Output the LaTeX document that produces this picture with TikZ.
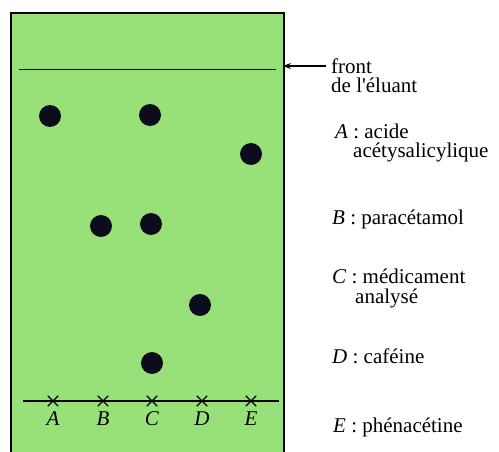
\documentclass[tikz,border=0pt]{standalone}
\usepackage{fontspec}
\setmainfont{Liberation Serif}
\usetikzlibrary{arrows.meta,positioning,shapes.misc}
\definecolor{plategreen}{RGB}{152,224,120}
\definecolor{spotcol}{RGB}{12,12,28}
\tikzset{
  >=Stealth,
  spot/.style={circle,fill=spotcol,inner sep=0pt,minimum size=22pt},
  tick/.style={cross out,draw,inner sep=0pt,minimum size=9pt,line width=1.4pt},
  lane/.style={font=\fontsize{21}{20}\selectfont\itshape,inner sep=0pt,anchor=base},
  lbl/.style={font=\fontsize{21}{20}\selectfont,align=left,anchor=base west,inner sep=0pt}
}
\begin{document}
\begin{tikzpicture}[x=1pt,y=-1pt]
    \useasboundingbox (0,0) rectangle (499,452);

    % Plate
    \fill[plategreen] (11,13) rectangle (284,452);
    \draw[line width=2.2pt] (11,452) -- (11,13) -- (284,13) -- (284,452);

    % Solvent front
    \draw[line width=1.8pt] (19,69.5) -- (276,69.5);

    % Start line and deposits
    \draw[line width=1.4pt] (23,401) -- (279,401);
    \foreach \n/\x in {A/53,B/103,C/152,D/202,E/251}{
        \node[tick] (x\n) at (\x,401) {};
        \node[lane] (l\n) at (\x,425) {\n};
    }

    % Spots
    \node[spot] (sA) at (50,116) {};
    \node[spot] (sC1) at (150,115) {};
    \node[spot] (sE) at (251,154) {};
    \node[spot] (sB) at (101,226) {};
    \node[spot] (sC2) at (151,224) {};
    \node[spot] (sD) at (200,305) {};
    \node[spot] (sC3) at (152,363) {};

    % Legend
    \coordinate (tip) at (283,66);
    \node[lbl] (front) at (331,93) {front\\de l\textquotesingle éluant};
    \draw[->, line width=1.1pt] ([xshift=-5pt]front.west |- tip) -- (tip);
    \node[lbl] (legA) at (335,158) {\textit{A} : acide\\\hspace*{18pt}acétysalicylique};
    \node[lbl] (legB) at (332,225) {\textit{B} : paracétamol};
    \node[lbl] (legC) at (332,303) {\textit{C} : médicament\\\hspace*{23pt}analysé};
    \node[lbl] (legD) at (332,363) {\textit{D} : caféine};
    \node[lbl] (legE) at (333,432) {\textit{E} : phénacétine};

\end{tikzpicture}
\end{document}
